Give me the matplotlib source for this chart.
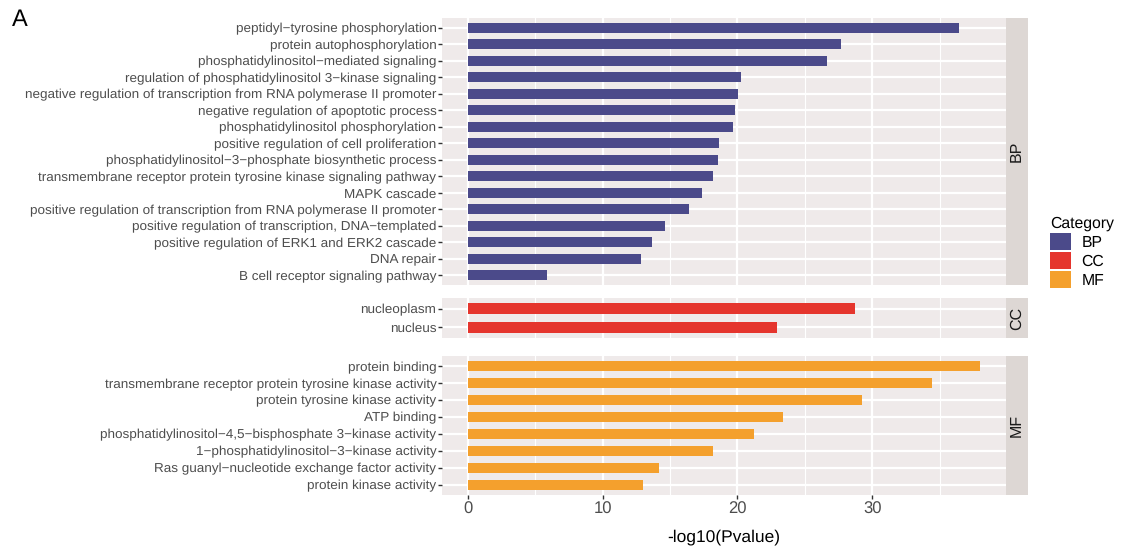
import matplotlib
matplotlib.use("Agg")
import matplotlib.pyplot as plt
from matplotlib.patches import Patch
from matplotlib.ticker import MultipleLocator

plt.rcParams['font.family'] = ['Liberation Sans', 'DejaVu Sans']
plt.rcParams['text.hinting'] = 'no_hinting'

bp_terms = [
    "peptidyl\u2212tyrosine phosphorylation",
    "protein autophosphorylation",
    "phosphatidylinositol\u2212mediated signaling",
    "regulation of phosphatidylinositol 3\u2212kinase signaling",
    "negative regulation of transcription from RNA polymerase II promoter",
    "negative regulation of apoptotic process",
    "phosphatidylinositol phosphorylation",
    "positive regulation of cell proliferation",
    "phosphatidylinositol\u22123\u2212phosphate biosynthetic process",
    "transmembrane receptor protein tyrosine kinase signaling pathway",
    "MAPK cascade",
    "positive regulation of transcription from RNA polymerase II promoter",
    "positive regulation of transcription, DNA\u2212templated",
    "positive regulation of ERK1 and ERK2 cascade",
    "DNA repair",
    "B cell receptor signaling pathway",
]
bp_values = [36.4, 27.7, 26.6, 20.25, 20.05, 19.85, 19.7, 18.6, 18.55, 18.15,
             17.4, 16.4, 14.6, 13.7, 12.85, 5.9]

cc_terms = ["nucleoplasm", "nucleus"]
cc_values = [28.7, 22.95]

mf_terms = [
    "protein binding",
    "transmembrane receptor protein tyrosine kinase activity",
    "protein tyrosine kinase activity",
    "ATP binding",
    "phosphatidylinositol\u22124,5\u2212bisphosphate 3\u2212kinase activity",
    "1\u2212phosphatidylinositol\u22123\u2212kinase activity",
    "Ras guanyl\u2212nucleotide exchange factor activity",
    "protein kinase activity",
]
mf_values = [38.0, 34.45, 29.2, 23.4, 21.2, 18.2, 14.2, 13.0]

categories = ["BP", "CC", "MF"]
colors = {"BP": "#4B4A8A", "CC": "#E5352D", "MF": "#F4A02D"}

W, H = 1121, 548
fig = plt.figure(figsize=(W / 100, H / 100), dpi=100)

PANEL_BG = "#EFEAEA"
STRIP_BG = "#DDD7D4"
TXT = "#4D4D4D"

left_px, right_px = 442, 1006
strip_w = 22
panels = [
    ("BP", bp_terms, bp_values, 18, 285),
    ("CC", cc_terms, cc_values, 298, 338),
    ("MF", mf_terms, mf_values, 356, 495),
]

def fax(x0, y0, x1, y1):
    return [x0 / W, 1 - y1 / H, (x1 - x0) / W, (y1 - y0) / H]

axes = []
for cat, terms, vals, top, bot in panels:
    ax = fig.add_axes(fax(left_px, top, right_px, bot))
    n = len(terms)
    ypos = list(range(n))
    ax.barh(ypos, vals, height=0.6, color=colors[cat], zorder=3)
    ax.set_ylim(n - 0.4, -0.6)
    ax.set_xlim(-1.9, 39.9)
    ax.set_facecolor(PANEL_BG)
    ax.set_yticks(ypos)
    ax.set_yticklabels(terms, fontsize=9.7, color=TXT)
    ax.xaxis.set_major_locator(MultipleLocator(10))
    ax.xaxis.set_minor_locator(MultipleLocator(5))
    ax.grid(which="major", axis="both", color="white", linewidth=1.6, zorder=0)
    ax.grid(which="minor", axis="x", color="white", linewidth=0.8, zorder=0)
    ax.set_axisbelow(True)
    for s in ax.spines.values():
        s.set_visible(False)
    ax.tick_params(axis="y", length=3, width=1.0, color="#333333", pad=1)
    ax.tick_params(axis="x", which="minor", length=0)
    axes.append(ax)

    sax = fig.add_axes(fax(right_px, top, right_px + strip_w, bot))
    sax.set_facecolor(STRIP_BG)
    sax.set_xticks([]); sax.set_yticks([])
    for s in sax.spines.values():
        s.set_visible(False)
    sax.text(0.5, 0.5, cat, rotation=90, ha="center", va="center",
             fontsize=11.5, color="#1A1A1A", transform=sax.transAxes)

for ax in axes[:-1]:
    ax.tick_params(axis="x", which="both", length=0, labelbottom=False)
axes[-1].tick_params(axis="x", which="major", length=3, width=1.0,
                     color="#333333", labelsize=12, labelcolor=TXT, pad=2)
axes[-1].set_xlabel("-log10(Pvalue)", fontsize=12.5, color="black", labelpad=8)

handles = [Patch(facecolor=colors[c], edgecolor="none", label=c) for c in categories]
leg = fig.legend(handles=handles, title="Category", loc="upper left",
                 bbox_to_anchor=(1047 / W, 1 - 213 / H), frameon=False,
                 fontsize=11.3, title_fontsize=11.3, handlelength=1.3,
                 handleheight=1.3, labelspacing=0.12, handletextpad=0.7,
                 borderaxespad=0, borderpad=0.2)
leg._legend_box.align = "left"

fig.text(12 / W, 1 - 20 / H, "A", fontsize=17, color="black", va="center", ha="left")

fig.savefig("out.png", dpi=100)
